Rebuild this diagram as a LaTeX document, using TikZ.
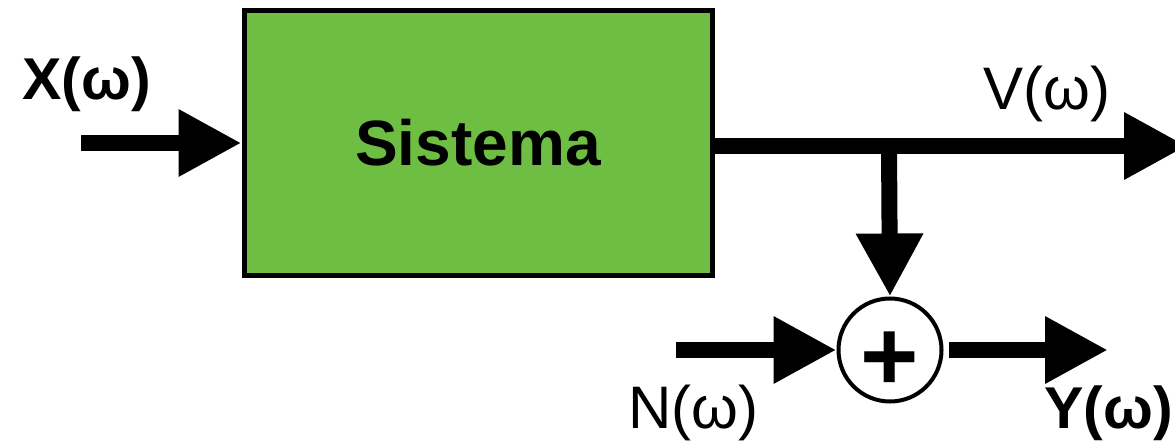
\documentclass[tikz,border=0pt]{standalone}
\usepackage{fontspec}
\setmainfont{Liberation Sans}
\usetikzlibrary{arrows.meta, positioning}
\definecolor{sysgreen}{RGB}{111,190,68}

\begin{document}
\begin{tikzpicture}[
        x=1pt, y=1pt,
        block/.style={
            draw,
            line width=5pt,
            fill=sysgreen,
            minimum width=468pt,
            minimum height=265pt,
            font=\fontsize{64pt}{70pt}\selectfont\bfseries
        },
        sumnode/.style={
            draw, circle,
            line width=4pt,
            minimum size=103pt,
            inner sep=0pt
        },
        arrow/.style={
            -{Triangle[length=63pt, width=63pt]},
            line width=16pt
        },
        signal/.style={
            inner sep=0pt,
            font=\fontsize{60pt}{66pt}\selectfont
        },
        signalbold/.style={
            inner sep=0pt,
            font=\fontsize{59pt}{66pt}\selectfont\bfseries
        }
    ]
    \useasboundingbox (0,0) rectangle (1175,444);

    \node[block] (sys) at (478,301) {Sistema};
    \node[sumnode] (sum) at (890,94) {};
    \node[inner sep=0pt, font=\fontsize{100pt}{100pt}\selectfont\bfseries] (plus) at ([yshift=-11pt]sum.center) {+};

    \coordinate (xin) at (81,301);
    \coordinate (vout) at (1187,298);
    \coordinate (branch) at (889,298);
    \coordinate (nin) at (676,94);
    \coordinate (yout) at (1108,94);

    \node[signalbold, anchor=base west] (xlabel) at (22,344) {X(ω)};
    \node[signal, anchor=base west] (vlabel) at (983,334) {V(ω)};
    \node[signal, anchor=base west] (nlabel) at (628,15) {N(ω)};
    \node[signalbold, anchor=base east] (ylabel) at (1173,15) {Y(ω)};

    \draw[arrow] (xin) -- (sys.west);
    \draw[arrow] (sys.east |- vout) -- (vout);
    \draw[arrow] (branch) -- (sum.north);
    \draw[arrow] (nin) -- (sum.west);
    \draw[arrow, shorten <=5pt] (sum.east) -- (yout);

    \end{tikzpicture}
\end{document}
